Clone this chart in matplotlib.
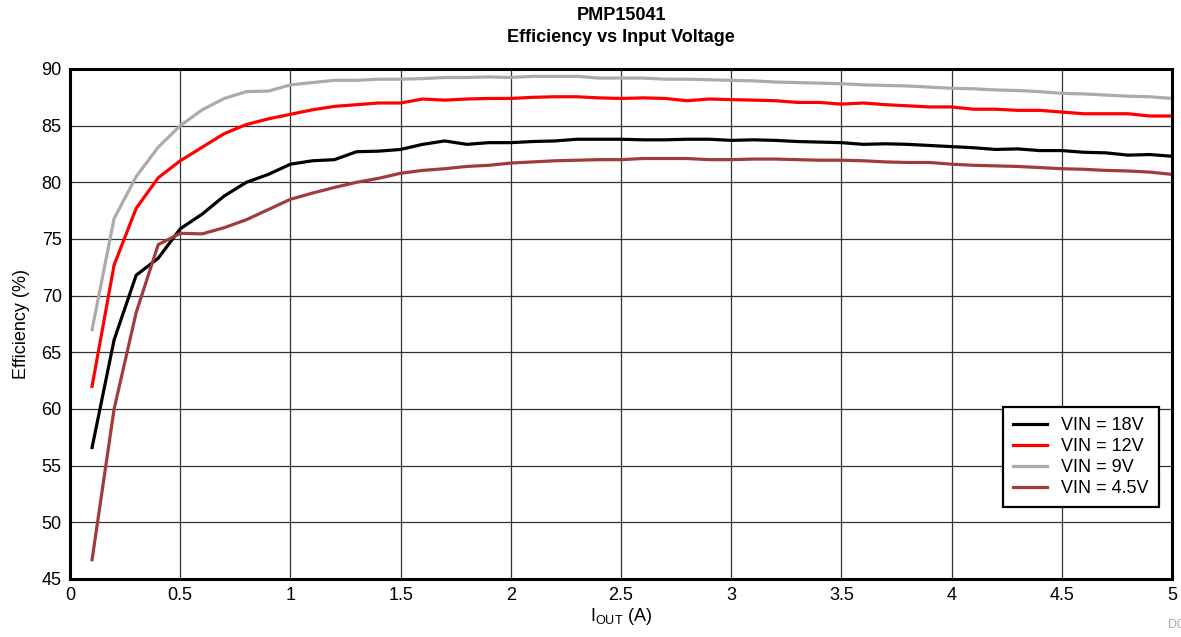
import numpy as np
import matplotlib
matplotlib.use("Agg")
import matplotlib.pyplot as plt

plt.rcParams['font.family'] = ['Liberation Sans', 'DejaVu Sans']

# output current (A)
iout = [0.1, 0.2, 0.3, 0.4, 0.5, 0.6, 0.7, 0.8, 0.9, 1.0,
        1.1, 1.2, 1.3, 1.4, 1.5, 1.6, 1.7, 1.8, 1.9, 2.0,
        2.1, 2.2, 2.3, 2.4, 2.5, 2.6, 2.7, 2.8, 2.9, 3.0,
        3.1, 3.2, 3.3, 3.4, 3.5, 3.6, 3.7, 3.8, 3.9, 4.0,
        4.1, 4.2, 4.3, 4.4, 4.5, 4.6, 4.7, 4.8, 4.9, 5.0]

eff_18v = [56.6, 66.1, 71.8, 73.3, 75.9, 77.2, 78.8, 80.0, 80.7, 81.6,
           81.9, 82.0, 82.7, 82.75, 82.9, 83.35, 83.65, 83.35, 83.5, 83.5,
           83.6, 83.65, 83.8, 83.8, 83.8, 83.75, 83.75, 83.8, 83.8, 83.7,
           83.75, 83.7, 83.6, 83.55, 83.5, 83.35, 83.4, 83.35, 83.25, 83.15,
           83.05, 82.9, 82.95, 82.8, 82.8, 82.65, 82.6, 82.4, 82.45, 82.3]

eff_12v = [62.0, 72.7, 77.7, 80.4, 81.9, 83.1, 84.3, 85.1, 85.6, 86.0,
           86.4, 86.7, 86.85, 87.0, 87.0, 87.35, 87.25, 87.35, 87.4, 87.4,
           87.5, 87.55, 87.55, 87.45, 87.4, 87.45, 87.4, 87.2, 87.35, 87.3,
           87.25, 87.2, 87.05, 87.05, 86.9, 87.0, 86.85, 86.75, 86.65, 86.65,
           86.45, 86.45, 86.35, 86.35, 86.2, 86.05, 86.05, 86.05, 85.85, 85.85]

eff_9v = [67.0, 76.8, 80.5, 83.1, 85.0, 86.4, 87.4, 88.0, 88.05, 88.6,
          88.8, 89.0, 89.0, 89.1, 89.1, 89.15, 89.25, 89.25, 89.3, 89.25,
          89.35, 89.35, 89.35, 89.2, 89.2, 89.2, 89.1, 89.1, 89.05, 89.0,
          88.95, 88.85, 88.8, 88.75, 88.7, 88.6, 88.55, 88.5, 88.4, 88.3,
          88.25, 88.15, 88.1, 88.0, 87.85, 87.8, 87.7, 87.6, 87.55, 87.4]

eff_4v5 = [46.7, 60.0, 68.5, 74.5, 75.5, 75.45, 76.0, 76.7, 77.6, 78.5,
           79.05, 79.55, 80.0, 80.35, 80.8, 81.05, 81.2, 81.4, 81.5, 81.7,
           81.8, 81.9, 81.95, 82.0, 82.0, 82.1, 82.1, 82.1, 82.0, 82.0,
           82.05, 82.05, 82.0, 81.95, 81.95, 81.9, 81.8, 81.75, 81.75, 81.6,
           81.5, 81.45, 81.4, 81.3, 81.2, 81.15, 81.05, 81.0, 80.9, 80.7]

series = [
    ("VIN = 18V", eff_18v, "#000000"),
    ("VIN = 12V", eff_12v, "#ff0000"),
    ("VIN = 9V", eff_9v, "#ababab"),
    ("VIN = 4.5V", eff_4v5, "#a03c3c"),
]

fig = plt.figure(figsize=(11.81, 6.37), dpi=100)
ax = fig.add_axes([0.0593, 0.0911, 0.9331, 0.8006])

for label, vals, col in series:
    ax.plot(iout, vals, color=col, lw=2.3, label=label)

ax.set_xlim(0, 5)
ax.set_ylim(45, 90)
ax.set_xticks(np.arange(0, 5.01, 0.5))
ax.set_xticklabels(['0', '0.5', '1', '1.5', '2', '2.5', '3', '3.5', '4', '4.5', '5'])
ax.set_yticks(np.arange(45, 91, 5))
ax.grid(True, color='#333333', lw=0.9)
ax.tick_params(length=0, labelsize=13, pad=6)
for sp in ax.spines.values():
    sp.set_linewidth(2.2)

ax.set_xlabel(r'I$_{\mathregular{OUT}}$ (A)', fontsize=13, labelpad=1)
ax.set_ylabel('Efficiency (%)', fontsize=13, labelpad=8)

fig.text(0.526, 0.975, 'PMP15041', ha='center', va='center', fontsize=13, fontweight='bold')
fig.text(0.526, 0.941, 'Efficiency vs Input Voltage', ha='center', va='center', fontsize=13, fontweight='bold')

leg = ax.legend(loc='lower right', bbox_to_anchor=(0.988, 0.141), fontsize=13,
                fancybox=False, framealpha=1, edgecolor='black',
                handlelength=1.9, borderpad=0.55, labelspacing=0.22, borderaxespad=0)
leg.get_frame().set_linewidth(1.6)

fig.text(0.989, 0.01, 'D001', color='#aaaaaa', fontsize=9, ha='left', va='bottom')

fig.savefig('out.png', dpi=100)
